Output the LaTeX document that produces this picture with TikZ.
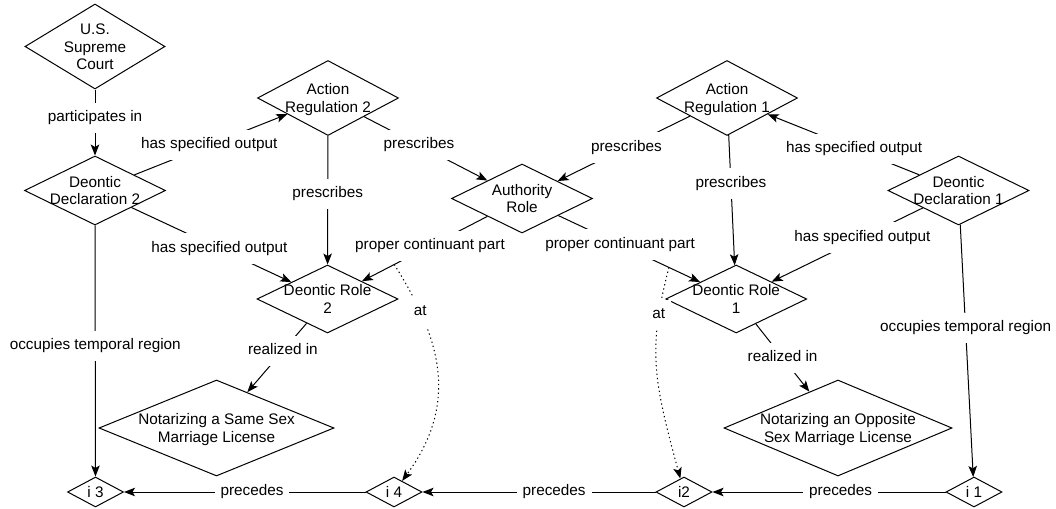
\documentclass[tikz,border=0pt]{standalone}
\usepackage{fontspec}
\setmainfont{Liberation Sans}
\usetikzlibrary{shapes.geometric,arrows.meta}
\newcommand\zt[1]{\makebox[0pt]{\raisebox{-5.8pt}[0pt][0pt]{\begin{tabular}{@{}c@{}}#1\end{tabular}}}}
\begin{document}
\begin{tikzpicture}[x=1pt,y=-1pt,
  font=\fontsize{15.3}{17.5}\selectfont,
  dia/.style={draw, diamond, inner sep=0pt, line width=1pt, minimum width=141pt, minimum height=69pt},
  arr/.style={line width=1pt, -{Stealth[length=11pt,width=8.5pt,inset=2.5pt]}},
  dotline/.style={dash pattern=on 1.3pt off 3pt},
  lbl/.style={fill=white, inner xsep=6pt, inner ysep=8pt, text height=11pt, text depth=3.5pt},
]
\useasboundingbox[fill=white] (0,0) rectangle (1056,508);
% nodes
\node[dia, minimum height=85pt, minimum width=140pt] (ussc) at (95,46.5) {\zt{U.S.\\Supreme\\Court}};
\node[dia] (dd2) at (95,190.5) {\zt{Deontic\\Declaration 2}};
\node[dia, minimum height=75pt] (ar2) at (328,98) {\zt{Action\\Regulation 2}};
\node[dia] (auth) at (522,198.5) {\zt{Authority\\Role}};
\node[dia, minimum height=75pt] (ar1) at (727,98) {\zt{Action\\Regulation 1}};
\node[dia] (dd1) at (958.5,190.5) {\zt{Deontic\\Declaration 1}};
\node[dia, minimum height=68pt] (dr2) at (327.5,299) {\zt{Deontic Role\\2}};
\node[dia, minimum height=68pt] (dr1) at (736.2,299) {\zt{Deontic Role\\1}};
\node[dia, minimum width=235pt, minimum height=96pt] (ns) at (216.5,428) {\zt{Notarizing a Same Sex\\Marriage License}};
\node[dia, minimum width=228pt, minimum height=96pt] (no) at (838,428) {\zt{Notarizing an Opposite\\Sex Marriage License}};
\node[dia, minimum width=56pt, minimum height=30pt] (i3) at (95.5,492) {\zt{i 3}};
\node[dia, minimum width=56pt, minimum height=30pt] (i4) at (394,492) {\zt{i 4}};
\node[dia, minimum width=56pt, minimum height=30pt] (i2) at (684,492) {\zt{i2}};
\node[dia, minimum width=56pt, minimum height=30pt] (i1) at (974,492) {\zt{i 1}};
% edges
\draw[arr] (ussc) -- node[lbl,pos=.43]{participates in} (dd2);
\draw[arr] (dd2) -- node[lbl,pos=.49]{has specified output} (ar2);
\draw[arr] (dd2) -- node[lbl,pos=.55]{has specified output} (dr2);
\draw[arr] (ar2) -- node[lbl,pos=.45]{prescribes} (dr2);
\draw[arr] (ar2) -- node[lbl,pos=.445]{prescribes} (auth);
\draw[arr] (ar1) -- node[lbl,pos=.48]{prescribes} (auth);
\draw[arr] (auth) -- node[lbl,pos=.457]{proper continuant part} coordinate[pos=.742] (p2) (dr2);
\draw[arr] (auth) -- node[lbl,pos=.436]{proper continuant part} coordinate[pos=.78] (p1) (dr1);
\draw[arr] (ar1) -- node[lbl,pos=.37]{prescribes} (dr1);
\draw[arr] (dd1) -- node[lbl,pos=.43]{has specified output} (ar1);
\draw[arr] (dd1) -- node[lbl,pos=.40]{has specified output} (dr1);
\draw[arr] (dd1) -- node[lbl,pos=.41]{occupies temporal region} (i1);
\draw[arr] (dd2) -- node[lbl,pos=.48]{occupies temporal region} (i3);
\draw[arr] (dr2) -- node[lbl,pos=.40]{realized in} (ns);
\draw[arr] (dr1) -- node[lbl,pos=.50]{realized in} (no);
\draw[arr, dotline] (p2) .. controls (440,337) and (460,402) .. node[lbl,pos=.22]{at} (i4);
\draw[arr, dotline] (p1) .. controls (648,349) and (652.7,377) .. node[lbl,pos=.22]{at} (i2);
\draw[arr] (i4) -- node[lbl,pos=.47]{precedes} (i3);
\draw[arr] (i2) -- node[lbl,pos=.435]{precedes} (i4);
\draw[arr] (i1) -- node[lbl,pos=.45]{precedes} (i2);
\end{tikzpicture}
\end{document}
